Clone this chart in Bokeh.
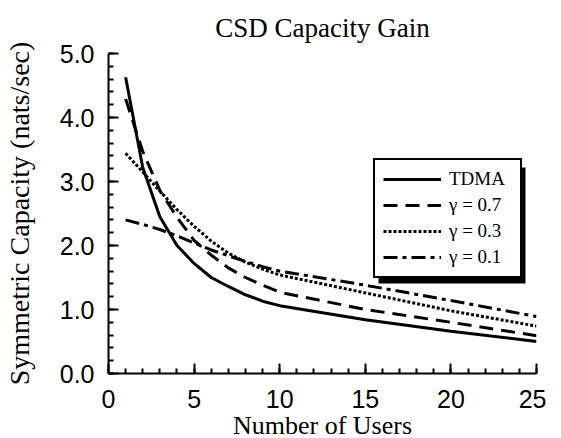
from bokeh.plotting import figure
from bokeh.models import (Range1d, Legend, LegendItem, BoxAnnotation,
                          SingleIntervalTicker, PrintfTickFormatter)
from bokeh.embed import file_html
from bokeh.resources import INLINE

# ---- data ----
users = [1, 2, 3, 4, 5, 6, 7, 8, 9, 10, 15, 20, 25]
tdma = [4.63, 3.22, 2.45, 2.00, 1.72, 1.50, 1.36, 1.23, 1.13, 1.06, 0.84, 0.66, 0.50]
g07 = [4.29, 3.47, 2.86, 2.44, 2.08, 1.85, 1.65, 1.50, 1.38, 1.27, 1.00, 0.80, 0.59]
g03 = [3.44, 3.15, 2.85, 2.56, 2.30, 2.07, 1.88, 1.74, 1.63, 1.54, 1.26, 0.98, 0.74]
g01 = [2.40, 2.33, 2.25, 2.15, 2.04, 1.93, 1.84, 1.75, 1.67, 1.60, 1.38, 1.14, 0.89]
labels = ["TDMA", "\u03b3 = 0.7", "\u03b3 = 0.3", "\u03b3 = 0.1"]
title_text = "CSD Capacity Gain"
xlabel = "Number of Users"
ylabel = "Symmetric Capacity (nats/sec)"

SERIF = "Liberation Serif"
SANS = "Liberation Sans"

FW, FH = 428, 320          # frame size in px
XMAX, YMAX = 25, 5

p = figure(frame_width=FW, frame_height=FH, output_backend="svg",
           toolbar_location=None,
           x_range=Range1d(0, XMAX), y_range=Range1d(0, YMAX),
           min_border_left=107, min_border_right=10,
           min_border_top=48, min_border_bottom=40)
p.title.text = title_text
p.title.align = "center"
p.title.text_font = SERIF
p.title.text_font_size = "27px"
p.title.text_font_style = "normal"
p.title.text_color = "black"
p.title.text_line_height = 1.0
p.title.standoff = 21

p.grid.visible = False
p.outline_line_color = None
p.background_fill_color = "white"
p.border_fill_color = "white"

for ax in (p.xaxis[0], p.yaxis[0]):
    ax.axis_line_width = 2
    ax.axis_line_color = "black"
    ax.major_tick_line_width = 2
    ax.minor_tick_line_width = 2
    ax.major_tick_line_color = "black"
    ax.minor_tick_line_color = "black"
    ax.major_tick_out = 0
    ax.major_tick_in = 10
    ax.minor_tick_out = 0
    ax.minor_tick_in = 5
    ax.major_label_text_font = SANS
    ax.major_label_text_font_size = "25px"
    ax.major_label_text_color = "black"
    ax.axis_label_text_font = SERIF
    ax.axis_label_text_font_style = "normal"
    ax.axis_label_text_color = "black"

p.xaxis[0].ticker = SingleIntervalTicker(interval=5, num_minor_ticks=5)
p.yaxis[0].ticker = SingleIntervalTicker(interval=1, num_minor_ticks=5)
p.yaxis[0].formatter = PrintfTickFormatter(format="%.1f")
p.xaxis[0].axis_label = xlabel
p.xaxis[0].axis_label_text_font_size = "26px"
p.xaxis[0].major_label_standoff = 16
p.xaxis[0].axis_label_standoff = 0
p.yaxis[0].axis_label = ylabel
p.yaxis[0].axis_label_text_font_size = "28px"
p.yaxis[0].major_label_standoff = 14
p.yaxis[0].axis_label_standoff = 22

lw = 3
r0 = p.line(users, tdma, line_color="black", line_width=lw)
r1 = p.line(users, g07, line_color="black", line_width=lw, line_dash="14 8")
r2 = p.line(users, g03, line_color="black", line_width=lw, line_dash="3 2")
r3 = p.line(users, g01, line_color="black", line_width=lw, line_dash="14 5 4 5")

# legend placement (screen px from frame bottom-left) and its drop shadow
LX, LY, LW, LH, SH = 265, 95, 147, 116, 5
sx, sy = XMAX / FW, YMAX / FH
shadow = BoxAnnotation(left=(LX + SH) * sx, right=(LX + LW + SH) * sx,
                       bottom=(LY - SH) * sy, top=(LY + LH - SH) * sy,
                       fill_color="black", fill_alpha=1.0, line_color=None)
p.add_layout(shadow)

legend = Legend(items=[LegendItem(label=l, renderers=[r]) for l, r in
                       zip(labels, [r0, r1, r2, r3])],
                location=(LX, LY))
legend.label_text_font = SERIF
legend.label_text_font_size = "19px"
legend.label_text_color = "black"
legend.glyph_width = 58
legend.glyph_height = 22
legend.label_height = 22
legend.label_width = 63
legend.label_standoff = 8
legend.spacing = 4
legend.padding = 8
legend.margin = 0
legend.border_line_color = "black"
legend.border_line_alpha = 1.0
legend.border_line_width = 2
legend.background_fill_color = "white"
legend.background_fill_alpha = 1.0
p.add_layout(legend)

open("out.html", "w").write(file_html(p, INLINE))
